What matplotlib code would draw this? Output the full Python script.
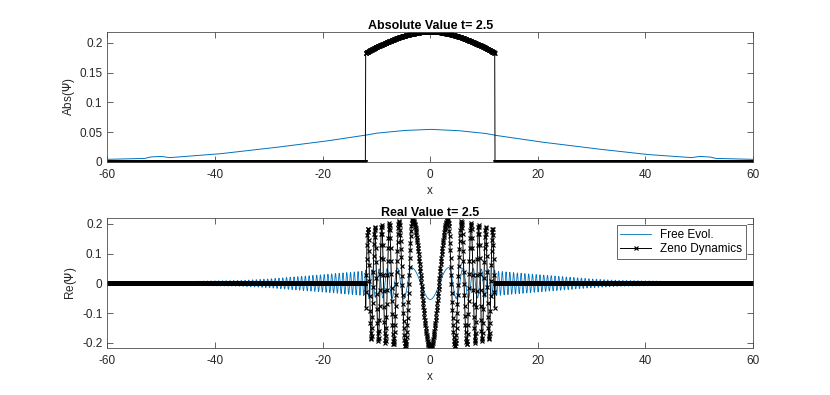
import numpy as np
import matplotlib
matplotlib.use("Agg")
import matplotlib.pyplot as plt

plt.rcParams['font.family'] = ['Liberation Sans', 'DejaVu Sans']
plt.rcParams['axes.unicode_minus'] = False

# ---------- values ----------
t_val = 2.5
x_min, x_max = -60, 60
n_grid = 2048
box_half = 12.0

# |psi| of free evolution (blue, top), sampled at |x|
free_abs_x = [0, 5, 10, 12, 20, 30, 40, 46, 48.5, 50, 52, 53, 56, 60]
free_abs_v = [0.0545, 0.0525, 0.048, 0.0446, 0.0339, 0.0226, 0.0124, 0.0085, 0.0068, 0.0090, 0.0080, 0.0056, 0.0048, 0.0040]

# apparent amplitude of the blue real part outside the box
free_re_amp_x = [12, 15, 20, 25, 30, 33, 35, 38, 42, 45, 48, 50, 60]
free_re_amp_v = [0.042, 0.037, 0.030, 0.022, 0.015, 0.012, 0.010, 0.009, 0.008, 0.006, 0.004, 0.0, 0.0]

# positions of successive extrema of the blue real part (phase steps of pi)
free_ext_x = [0, 3.5, 4.9, 6.1, 7.1, 8.0, 8.8, 9.5, 10.2, 10.8, 11.4, 12.0]
free_period_out = 0.7

# |psi| of Zeno dynamics inside the box (black, top)
zeno_abs_x = [0, 2, 4, 6, 8, 10, 12]
zeno_abs_v = [0.2185, 0.2175, 0.214, 0.2085, 0.201, 0.193, 0.183]

# positions of successive extrema of the black real part
zeno_ext_x = [0, 3.3, 4.6, 5.8, 6.8, 7.6, 8.35, 9.0, 9.65, 10.3, 10.95, 11.6, 12.2]

# ---------- build curves ----------
x = np.linspace(x_min, x_max, n_grid)
ax_ = np.abs(x)
inside = ax_ < box_half

free_abs = np.interp(ax_, free_abs_x, free_abs_v)
ph_in = np.interp(ax_, free_ext_x, np.pi * np.arange(1, len(free_ext_x) + 1))
ph_out = np.pi * len(free_ext_x) + (ax_ - free_ext_x[-1]) * 2 * np.pi / free_period_out
free_phase = np.where(inside, ph_in, ph_out)
free_amp = np.where(inside, free_abs, np.interp(ax_, free_re_amp_x, free_re_amp_v))
free_re = free_amp * np.cos(free_phase)

zeno_abs = np.where(inside, np.interp(ax_, zeno_abs_x, zeno_abs_v), 0.0)
zeno_phase = np.interp(ax_, zeno_ext_x, np.pi * np.arange(1, len(zeno_ext_x) + 1))
zeno_re = zeno_abs * np.cos(zeno_phase)

blue = '#0072BD'
grey = '0.15'


def style(ax, ylabel, title):
    ax.set_xlim(x_min, x_max)
    ax.set_xticks([-60, -40, -20, 0, 20, 40, 60])
    ax.tick_params(direction='in', top=True, right=True, length=4, width=0.5,
                   colors=grey, labelsize=8.5)
    ax.tick_params(axis='x', pad=5)
    for s in ax.spines.values():
        s.set_color('0.3')
        s.set_linewidth(0.6)
    ax.set_xlabel('x', fontsize=8.5, color=grey, labelpad=3)
    ax.set_ylabel(ylabel, fontsize=8.5, color=grey, labelpad=2)
    ax.set_title(title, fontsize=9, fontweight='bold', pad=2)


fig = plt.figure(figsize=(8.3, 3.95), dpi=100)

# ---------- Absolute value ----------
ax1 = fig.add_axes([0.1293, 0.5906, 0.778, 0.329])
ax1.plot(x, free_abs, color=blue, lw=0.7)
ax1.plot(x, zeno_abs, color='k', lw=0.7, marker='x', ms=3.3, mew=0.85)
ax1.set_ylim(0, 0.2187)
ax1.set_yticks([0, 0.05, 0.1, 0.15, 0.2])
ax1.set_yticklabels(['0', '0.05', '0.1', '0.15', '0.2'])
style(ax1, 'Abs($\\Psi$)', f'Absolute Value t= {t_val}')

# ---------- Real value ----------
ax2 = fig.add_axes([0.1293, 0.1182, 0.778, 0.329])
ax2.plot(x, free_re, color=blue, lw=0.6, label='Free Evol.')
ax2.plot(x, zeno_re, color='k', lw=0.7, marker='x', ms=3.3, mew=0.85, label='Zeno Dynamics')
ax2.set_ylim(-0.2187, 0.2187)
ax2.set_yticks([-0.2, -0.1, 0, 0.1, 0.2])
ax2.set_yticklabels(['-0.2', '-0.1', '0', '0.1', '0.2'])
style(ax2, 'Re($\\Psi$)', f'Real Value t= {t_val}')
leg = ax2.legend(loc='upper right', fontsize=8.5, fancybox=False, framealpha=1,
                 edgecolor='0.3', borderpad=0.3, handlelength=2.6, labelspacing=0.2,
                 borderaxespad=0.6, markerscale=1.0)
leg.get_frame().set_linewidth(0.6)

fig.savefig('out.png', dpi=100)
